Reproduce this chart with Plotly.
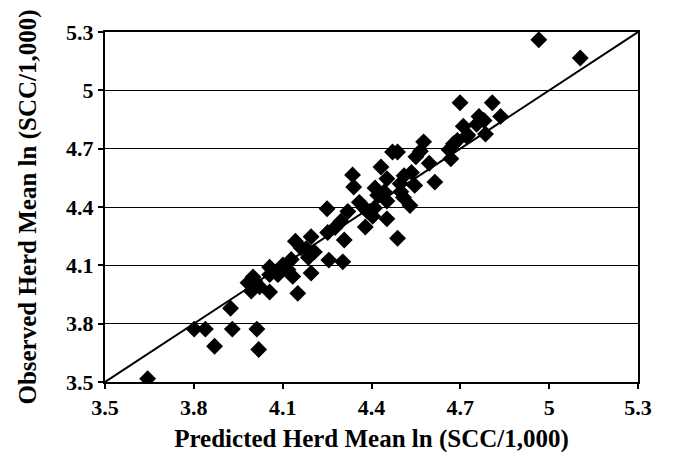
import plotly.graph_objects as go

predicted = [4.965, 5.105, 4.699, 4.808, 4.836, 4.763, 4.780, 4.755, 4.710, 4.722,
             4.785, 4.690, 4.677, 4.662, 4.668, 4.576, 4.565, 4.550, 4.471, 4.488,
             4.595, 4.614, 4.432, 4.535, 4.510, 4.452, 4.546, 4.497, 4.412, 4.443,
             4.499, 4.508, 4.421, 4.452, 4.530, 4.336, 4.340, 4.359, 4.376, 4.393,
             4.404, 4.379, 4.452, 4.488, 4.250, 4.320, 4.297, 4.277, 4.252, 4.308,
             4.256, 4.303, 4.196, 4.143, 4.162, 4.179, 4.207, 4.187, 4.196, 4.129,
             4.101, 4.056, 4.084, 4.118, 4.134, 4.056, 4.151, 4.000, 3.983, 3.994,
             4.022, 4.056, 3.924, 3.801, 3.839, 3.930, 4.013, 3.870, 4.019, 3.644,
             4.005, 4.385, 4.410, 4.725]
observed = [5.260, 5.166, 4.936, 4.936, 4.866, 4.866, 4.845, 4.825, 4.815, 4.762,
            4.775, 4.742, 4.725, 4.695, 4.648, 4.735, 4.687, 4.658, 4.683, 4.683,
            4.625, 4.528, 4.606, 4.578, 4.561, 4.545, 4.511, 4.520, 4.498, 4.478,
            4.478, 4.449, 4.461, 4.431, 4.408, 4.565, 4.503, 4.424, 4.394, 4.377,
            4.352, 4.297, 4.339, 4.239, 4.391, 4.377, 4.327, 4.294, 4.269, 4.230,
            4.127, 4.118, 4.247, 4.224, 4.190, 4.185, 4.169, 4.140, 4.060, 4.130,
            4.102, 4.090, 4.052, 4.077, 4.043, 4.052, 3.956, 4.040, 4.010, 3.968,
            3.990, 3.963, 3.879, 3.772, 3.772, 3.772, 3.772, 3.684, 3.667, 3.517,
            4.020, 4.380, 4.395, 4.770]

line_x = [3.5, 5.3]
line_y = [3.5, 5.3]

tick_vals = [3.5, 3.8, 4.1, 4.4, 4.7, 5.0, 5.3]
tick_text = ["3.5", "3.8", "4.1", "4.4", "4.7", "5", "5.3"]

font_family = "Liberation Serif"

fig = go.Figure()
fig.add_trace(go.Scatter(
    x=predicted, y=observed, mode="markers",
    marker=dict(symbol="diamond", size=13, color="black", line=dict(width=0)),
    showlegend=False, hoverinfo="x+y"))
fig.add_trace(go.Scatter(
    x=line_x, y=line_y, mode="lines",
    line=dict(color="black", width=2), showlegend=False, hoverinfo="skip"))

axis_common = dict(
    range=[3.5, 5.3], tickvals=tick_vals, ticktext=tick_text,
    showline=True, linecolor="black", linewidth=2, mirror=True,
    ticks="outside", ticklen=5, tickwidth=2, tickcolor="black",
    zeroline=False,
    tickfont=dict(family=font_family, size=22, color="black", weight=700),
)

fig.update_xaxes(
    **axis_common, showgrid=False,
    title=dict(text="Predicted Herd Mean ln (SCC/1,000)",
               font=dict(family=font_family, size=25, color="black", weight=700),
               standoff=10))
fig.update_yaxes(
    **axis_common, showgrid=True, gridcolor="black", gridwidth=1,
    title=dict(text="Observed Herd Mean ln (SCC/1,000)",
               font=dict(family=font_family, size=25, color="black", weight=700),
               standoff=22))

fig.update_layout(
    width=685, height=452,
    margin=dict(l=97, r=55, t=19, b=74),
    plot_bgcolor="white", paper_bgcolor="white",
)

fig.write_html("out.html")
